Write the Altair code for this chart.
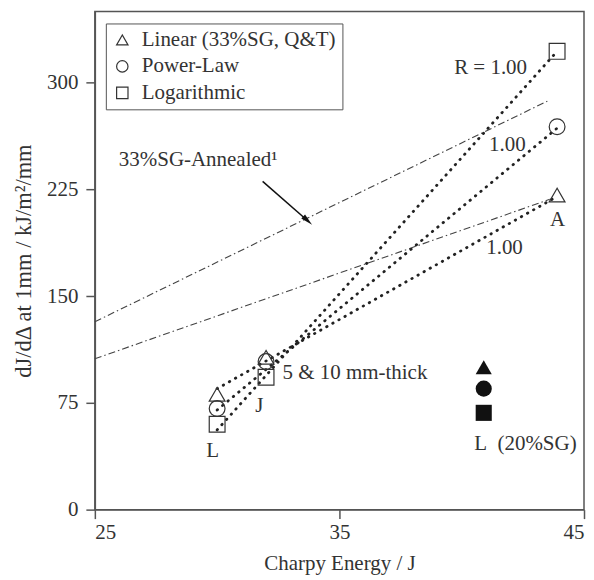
import altair as alt
import pandas as pd

# ---------------- data ----------------
fits = ["Linear (33%SG, Q&T)", "Power-Law", "Logarithmic"]
fit_shapes = ["triangle-up", "circle", "square"]

# 33%SG, Q&T specimens (L, J, A) - hollow markers
charpy_33 = [30.0, 32.0, 43.9]
linear_vals = [81, 107, 221]
power_vals = [71, 104, 269]
log_vals = [60, 93, 322]

# 20%SG specimen (L) - filled markers
charpy_20 = [40.9, 40.9, 40.9]
vals_20 = [100, 85, 68]

# fitted (R = 1.00) dotted lines, end points
fit_x = [30.0, 43.9]
linear_fit = [85, 220]
power_fit = [70, 268]
log_fit = [56, 322]

# 33%SG-Annealed dash-dot lines
ann_upper_x = [25.0, 43.5]
ann_upper_y = [132, 287]
ann_lower_x = [25.0, 43.6]
ann_lower_y = [106, 218]

# arrow
arrow_x = [31.86, 33.7]
arrow_y = [230.6, 203]

# annotations
left_labels = ["R = 1.00", "1.00", "1.00", "5 & 10 mm-thick", "L\u00a0\u00a0(20%SG)", "33%SG-Annealed\u00b9"]
left_x = [39.69, 41.12, 41.0, 32.67, 40.51, 25.98]
left_y = [310.2, 256.2, 184.0, 96.2, 45.9, 245.7]
center_labels = ["A", "J", "L"]
center_x = [43.92, 31.73, 29.82]
center_y = [203.6, 72.8, 41.2]

# ---------------- tables ----------------
pts = pd.DataFrame({
    "fit": [f for f in fits for _ in charpy_33],
    "x": charpy_33 * 3,
    "y": linear_vals + power_vals + log_vals,
})
pts20 = pd.DataFrame({"x": charpy_20, "y": vals_20, "shape": fit_shapes})
fitlines = pd.DataFrame({
    "fit": [f for f in fits for _ in fit_x],
    "x": fit_x * 3,
    "y": linear_fit + power_fit + log_fit,
})
ann = pd.DataFrame({
    "line": ["upper", "upper", "lower", "lower"],
    "x": ann_upper_x + ann_lower_x,
    "y": ann_upper_y + ann_lower_y,
})
arrow = pd.DataFrame({"x": [arrow_x[0]], "y": [arrow_y[0]], "x2": [arrow_x[1]], "y2": [arrow_y[1]]})
head = pd.DataFrame({"x": [arrow_x[1]], "y": [arrow_y[1]]})
tl = pd.DataFrame({"t": left_labels, "x": left_x, "y": left_y})
tc = pd.DataFrame({"t": center_labels, "x": center_x, "y": center_y})

FONT = "Liberation Serif"
INK = "#333333"
FS = 21

xs = alt.Scale(domain=[25, 45], nice=False, zero=False)
ys = alt.Scale(domain=[0, 350], nice=False)


def X():
    return alt.X("x:Q", scale=xs, axis=alt.Axis(values=[25, 35, 45], title="Charpy Energy / J",
                                                  titlePadding=10, labelPadding=3))


def Y():
    return alt.Y("y:Q", scale=ys, axis=alt.Axis(values=[0, 75, 150, 225, 300],
                                                  title="dJ/d\u0394 at 1mm / kJ/m\u00b2/mm",
                                                  titleFontSize=22.5,
                                                  titlePadding=11, labelPadding=8))


ann_layer = alt.Chart(ann).mark_line(strokeDash=[7, 3, 1.5, 3], strokeWidth=1.1, color="#444").encode(
    x=X(), y=Y(), detail="line:N")

fit_layer = alt.Chart(fitlines).mark_line(strokeDash=[0.5, 6.5], strokeWidth=2.8, strokeCap="round",
                                          color="#222").encode(x=X(), y=Y(), detail="fit:N")

hollow = alt.Chart(pts).mark_point(filled=False, size=250, strokeWidth=1.2, color=INK, opacity=1).encode(
    x=X(), y=Y(),
    shape=alt.Shape("fit:N", scale=alt.Scale(domain=fits, range=fit_shapes),
                    legend=alt.Legend(title=None, orient="none", legendX=11, legendY=12,
                                      strokeColor="#555", padding=6, labelFont=FONT, labelFontSize=21,
                                      labelColor=INK, labelLimit=0, symbolSize=130, symbolStrokeWidth=1.2,
                                      symbolStrokeColor=INK, rowPadding=4.5, labelOffset=9,
                                      fillColor="white")),
)

filled = alt.Chart(pts20).mark_point(filled=True, size=260, color="#111", opacity=1).encode(
    x=X(), y=Y(), shape=alt.Shape("shape:N", scale=None))

shaft = alt.Chart(arrow).mark_rule(strokeWidth=1.5, color="#111").encode(
    x=X(), y=Y(), x2="x2:Q", y2="y2:Q")
arrowhead = alt.Chart(head).mark_point(shape="M0,-1L0.45,1L-0.45,1Z", filled=True, size=150,
                                       angle=133, color="#111", opacity=1).encode(x=X(), y=Y())

text_left = alt.Chart(tl).mark_text(font=FONT, fontSize=FS, color=INK, align="left",
                                    baseline="middle").encode(x=X(), y=Y(), text="t:N")
text_center = alt.Chart(tc).mark_text(font=FONT, fontSize=FS, color=INK, align="center",
                                      baseline="middle").encode(x=X(), y=Y(), text="t:N")

chart = alt.layer(ann_layer, fit_layer, hollow, filled, shaft, arrowhead, text_left, text_center).properties(
    width=490, height=499, autosize="none",
    padding={"left": 87, "top": 3, "right": 2, "bottom": 68},
).configure_view(stroke="#555", strokeWidth=1.5).configure_axis(
    domainColor="#555", domainWidth=1.5, tickColor="#555", tickWidth=1.5, tickSize=9,
    labelFont=FONT, labelFontSize=FS, labelColor=INK,
    titleFont=FONT, titleFontSize=FS, titleFontWeight="normal", titleColor=INK, grid=False,
)

chart.save("out.html", embed_options={"renderer": "svg", "actions": False})
